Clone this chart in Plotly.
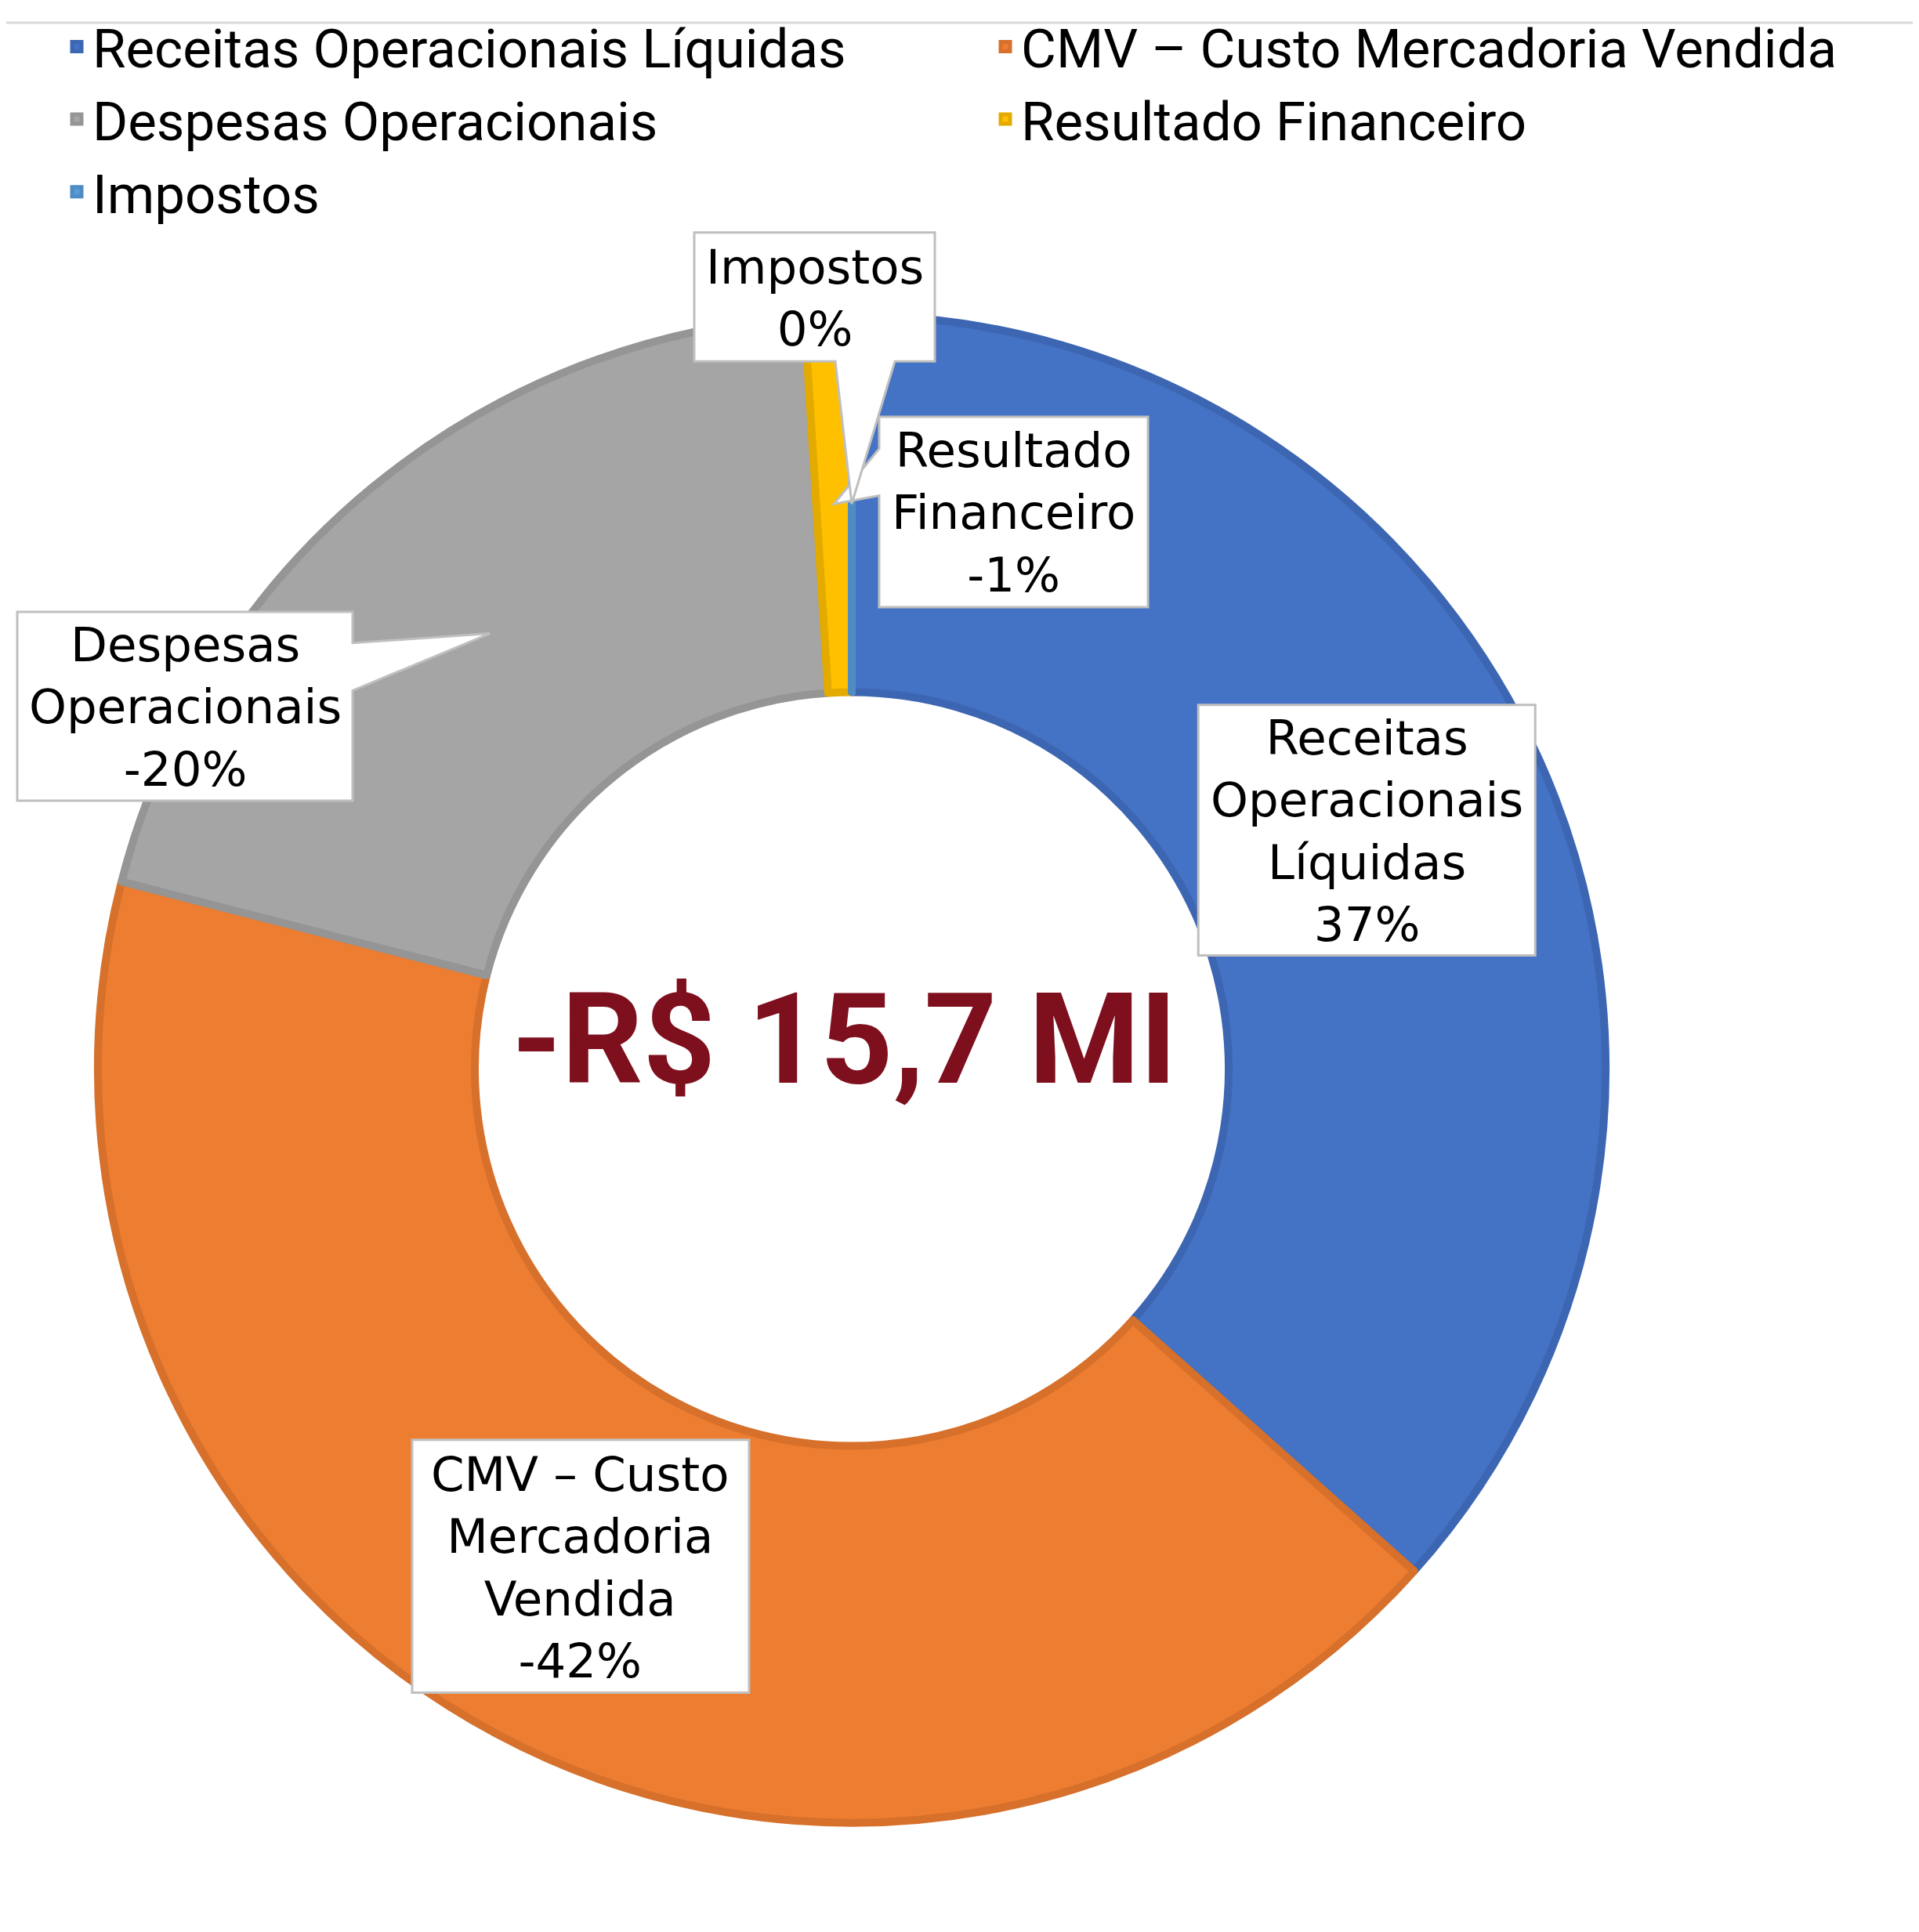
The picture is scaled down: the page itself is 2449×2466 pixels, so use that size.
import math
import plotly.graph_objects as go

# ---------------- data ----------------
categories = [
    "Receitas Operacionais Líquidas",
    "CMV – Custo Mercadoria Vendida",
    "Despesas Operacionais",
    "Resultado Financeiro",
    "Impostos",
]
# signed share of the total movement, in %
share_pct = [36.6, -42.4, -20.0, -1.0, 0.0]
label_lines = [
    ["Receitas", "Operacionais", "Líquidas"],
    ["CMV – Custo", "Mercadoria", "Vendida"],
    ["Despesas", "Operacionais"],
    ["Resultado", "Financeiro"],
    ["Impostos"],
]
center_label = "-R$ 15,7 MI"

# ---------------- style ----------------
colors = ["#4472C4", "#ED7D31", "#A5A5A5", "#FFC000", "#5B9BD5"]
line_colors = ["#3D66B2", "#D6702B", "#959595", "#E3AB00", "#4F8CC4"]

W, H = 2449, 2466
CX, CY, R = 1079, 1352, 966          # pie centre / radius in px
HOLE = 0.5
MID_R = (1 + HOLE) / 2 * R           # label anchor radius


def px(x):
    return x / W


def py(y):
    return 1 - y / H


def fmt_pct(v):
    r = int(math.floor(abs(v) + 0.5))
    return ("-" if v < 0 and r != 0 else "") + "%d%%" % r


values = [abs(v) for v in share_pct]
total = sum(values)
pct_text = [fmt_pct(v) for v in share_pct]

# mid-ring anchor of every slice (clockwise from 12 o'clock)
anchors = []
cum = 0.0
for v in values:
    ang = math.radians((cum + v / 2) / total * 360)
    anchors.append((CX + MID_R * math.sin(ang), CY - MID_R * math.cos(ang)))
    cum += v

fig = go.Figure()
fig.add_trace(go.Pie(
    labels=categories,
    values=values,
    hole=HOLE,
    sort=False,
    direction="clockwise",
    rotation=0,
    textinfo="none",
    marker=dict(colors=colors, line=dict(color=line_colors, width=10)),
    domain=dict(x=[px(CX - R), px(CX + R)], y=[py(CY + R), py(CY - R)]),
    showlegend=True,
))

shapes = []
annotations = []

# box definitions: (left, top, width, height) in px; None -> centred on slice
boxes = [None, None, (14, 766, 428, 242), (1114, 516, 343, 244), (878, 280, 307, 165)]
box_sizes = [(430, 321), (430, 324), None, None, None]
box_shift = [(-4, -10), (-5, -2), None, None, None]
# callout side for moved labels
callout = [None, None, "right", "left", "bottom"]
callout_span = [None, None, (40, 101), (41, 101), (180, 256)]

for i in range(len(categories)):
    if boxes[i] is None:
        bw, bh = box_sizes[i]
        ax, ay = anchors[i]
        L, T = ax - bw / 2 + box_shift[i][0], ay - bh / 2 + box_shift[i][1]
    else:
        L, T, bw, bh = boxes[i]
    Rr, B = L + bw, T + bh
    tx, ty = anchors[i]
    if callout[i] is None:
        pts = [(L, T), (Rr, T), (Rr, B), (L, B)]
    elif callout[i] == "right":
        a, b = callout_span[i]
        pts = [(L, T), (Rr, T), (Rr, T + a), (tx, ty), (Rr, T + b), (Rr, B), (L, B)]
    elif callout[i] == "left":
        a, b = callout_span[i]
        pts = [(L, T), (Rr, T), (Rr, B), (L, B), (L, T + b), (tx, ty), (L, T + a)]
    else:  # bottom
        a, b = callout_span[i]
        pts = [(L, T), (Rr, T), (Rr, B), (L + b, B), (tx, ty), (L + a, B), (L, B)]
    path = "M " + " L ".join("%.5f,%.5f" % (px(x), py(y)) for x, y in pts) + " Z"
    shapes.append(dict(type="path", path=path, xref="paper", yref="paper",
                       fillcolor="white", line=dict(color="#BFBFBF", width=3),
                       layer="above"))
    annotations.append(dict(
        x=px(L + bw / 2), y=py(T + bh / 2 + 1), xref="paper", yref="paper",
        xanchor="center", yanchor="middle", showarrow=False, align="center",
        text="<br>".join(label_lines[i] + [pct_text[i]]),
        font=dict(family="DejaVu Sans", size=61, color="black"),
    ))

# centre value
annotations.append(dict(
    x=px(CX - 10), y=py(CY - 38), xref="paper", yref="paper",
    xanchor="center", yanchor="middle", showarrow=False,
    text=center_label,
    font=dict(family="Roboto", size=162, color="#7E0F1D", weight="bold"),
))

# thin top border line
shapes.append(dict(type="line", xref="paper", yref="paper", x0=0, x1=1,
                   y0=py(11), y1=py(11), line=dict(color="#D9D9D9", width=3)))

fig.update_layout(
    width=W, height=H,
    margin=dict(l=0, r=0, t=0, b=0),
    paper_bgcolor="white", plot_bgcolor="white",
    shapes=shapes, annotations=annotations,
    legend=dict(
        orientation="h", x=px(70), y=py(-10), xanchor="left", yanchor="top",
        entrywidth=1140, entrywidthmode="pixels",
        bgcolor="rgba(0,0,0,0)",
        font=dict(family="Roboto", size=69, color="black"),
        traceorder="normal", itemclick=False, itemdoubleclick=False,
    ),
)

fig.write_html("out.html")
